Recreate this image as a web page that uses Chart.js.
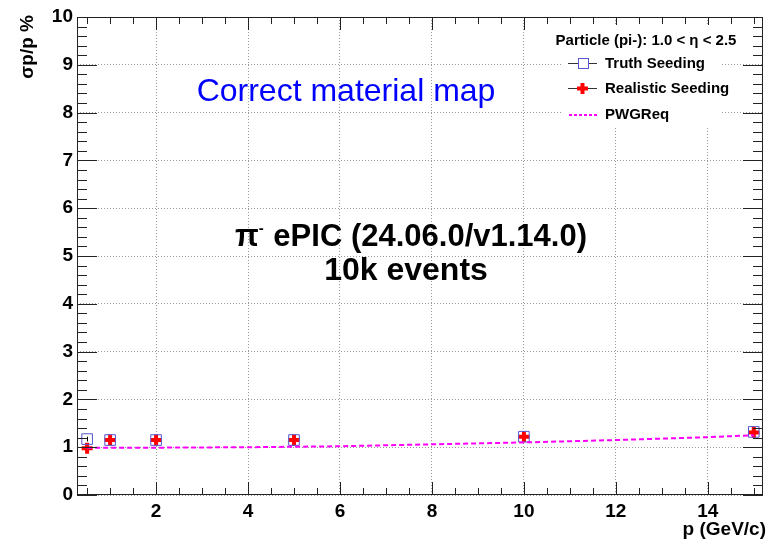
<!DOCTYPE html>
<html>
<head>
<meta charset="utf-8">
<script src="https://cdn.jsdelivr.net/npm/chart.js@4"></script>
<style>
  html, body { margin: 0; padding: 0; background: #fff; }
  #wrap { width: 768px; height: 542px; }
</style>
</head>
<body>
<div id="wrap"><canvas id="myChart" width="768" height="542"></canvas></div>
<script>
'use strict'
// momentum points (GeV/c)
let pVals = [0.5, 1, 2, 5, 10, 15];
let truthRes = [1.17, 1.15, 1.15, 1.15, 1.22, 1.32];
let truthErr = [0.05, 0.02, 0.02, 0.02, 0.02, 0.02];
let realRes = [0.98, 1.15, 1.15, 1.15, 1.22, 1.31];
let realErr = [0.03, 0.02, 0.02, 0.02, 0.02, 0.02];
// PWG requirement curve
let pwgP = [0.5, 1, 2, 4, 6, 8, 10, 12, 14, 15];
let pwgRes = [0.99, 0.99, 0.99, 1.0, 1.02, 1.06, 1.10, 1.15, 1.21, 1.25];
let xTicks = [2, 4, 6, 8, 10, 12, 14];
let yTicks = [0, 1, 2, 3, 4, 5, 6, 7, 8, 9, 10];

let font = '"Liberation Sans", Arial, sans-serif';

function pts(xs, ys) {
    let out = [];
    for (let i = 0; i < xs.length; i++) {
        out.push({x: xs[i], y: ys[i]});
    }
    return out;
}

// ROOT style frame with inner ticks on all four sides
let frameTicks = {
    id: 'frameTicks',
    afterDatasetsDraw(chart) {
        let ctx = chart.ctx;
        let a = chart.chartArea;
        let xs = chart.scales.x;
        let ys = chart.scales.y;
        ctx.save();
        ctx.strokeStyle = '#222';
        ctx.lineWidth = 1;
        ctx.beginPath();
        // x ticks every 0.5, major every 2
        for (let v = 0.5; v <= 15.2; v += 0.5) {
            let px = Math.round(xs.getPixelForValue(v)) + 0.5;
            let len = (v % 2 === 0) ? 13 : 7;
            ctx.moveTo(px, a.bottom); ctx.lineTo(px, a.bottom - len);
            ctx.moveTo(px, a.top); ctx.lineTo(px, a.top + len);
        }
        // y ticks every 0.2, major every 1
        for (let k = 0; k <= 50; k++) {
            let v = k / 5;
            let py = Math.round(ys.getPixelForValue(v)) + 0.5;
            let len = (k % 5 === 0) ? 20 : 10;
            ctx.moveTo(a.left, py); ctx.lineTo(a.left + len, py);
            ctx.moveTo(a.right, py); ctx.lineTo(a.right - len, py);
        }
        ctx.stroke();
        ctx.strokeRect(Math.round(a.left) + 0.5, Math.round(a.top) + 0.5,
            Math.round(a.right - a.left) - 1, Math.round(a.bottom - a.top) - 1);
        ctx.restore();
    }
};

// small vertical error bars, drawn under the markers
let errBars = {
    id: 'errBars',
    beforeDatasetsDraw(chart) {
        let ctx = chart.ctx;
        let xs = chart.scales.x;
        let ys = chart.scales.y;
        let sets = [[truthRes, truthErr], [realRes, realErr]];
        ctx.save();
        ctx.strokeStyle = '#000';
        ctx.lineWidth = 1;
        ctx.beginPath();
        sets.forEach(function (s) {
            for (let i = 0; i < pVals.length; i++) {
                let px = Math.round(xs.getPixelForValue(pVals[i])) + 0.5;
                ctx.moveTo(px, ys.getPixelForValue(s[0][i] - s[1][i]));
                ctx.lineTo(px, ys.getPixelForValue(s[0][i] + s[1][i]));
            }
        });
        ctx.stroke();
        ctx.restore();
    }
};

let labelsAndLegend = {
    id: 'labelsAndLegend',
    afterDraw(chart) {
        let ctx = chart.ctx;
        ctx.save();
        // legend box
        ctx.fillStyle = '#fff';
        ctx.fillRect(563, 25, 158, 102);
        ctx.fillStyle = '#000';
        ctx.textBaseline = 'middle';
        ctx.textAlign = 'center';
        ctx.font = 'bold 15px ' + font;
        ctx.fillText('Particle (pi-): 1.0 < \u03b7 < 2.5', 646, 41);

        ctx.textAlign = 'left';
        ctx.font = 'bold 15px ' + font;
        ctx.fillText('Truth Seeding', 605, 64);
        ctx.fillText('Realistic Seeding', 605, 89);
        ctx.fillText('PWGReq', 605, 115);

        // legend markers
        ctx.strokeStyle = '#333';
        ctx.lineWidth = 1;
        ctx.beginPath();
        ctx.moveTo(568, 63.5); ctx.lineTo(597, 63.5);
        ctx.moveTo(568, 88.5); ctx.lineTo(597, 88.5);
        ctx.stroke();
        ctx.fillStyle = '#fff';
        ctx.fillRect(578, 59, 10, 10);
        ctx.strokeStyle = '#5555cc';
        ctx.strokeRect(578.5, 58.5, 10, 10);
        ctx.strokeStyle = '#ff0000';
        ctx.lineWidth = 4;
        ctx.beginPath();
        ctx.moveTo(577, 88.5); ctx.lineTo(588, 88.5);
        ctx.moveTo(582.5, 83); ctx.lineTo(582.5, 94);
        ctx.stroke();
        ctx.strokeStyle = '#ff00ff';
        ctx.lineWidth = 2;
        ctx.setLineDash([3, 2]);
        ctx.beginPath();
        ctx.moveTo(569, 115); ctx.lineTo(597, 115);
        ctx.stroke();
        ctx.setLineDash([]);

        // annotations
        ctx.textBaseline = 'alphabetic';
        ctx.textAlign = 'center';
        ctx.fillStyle = '#0000ff';
        ctx.font = '32px ' + font;
        ctx.fillText('Correct material map', 346, 101);

        ctx.fillStyle = '#000';
        ctx.font = 'bold 31px ' + font;
        let t1 = ' ePIC (24.06.0/v1.14.0)';
        let wPi = ctx.measureText('\u03c0').width;
        let wT = ctx.measureText(t1).width;
        let startX = 411 - (wPi + 6 + wT) / 2;
        ctx.textAlign = 'left';
        ctx.fillText('\u03c0', startX, 246);
        ctx.font = 'bold 15px ' + font;
        ctx.fillText('-', startX + wPi, 233);
        ctx.font = 'bold 31px ' + font;
        ctx.fillText(t1, startX + wPi + 6, 246);
        ctx.textAlign = 'center';
        ctx.font = 'bold 32px ' + font;
        ctx.fillText('10k events', 406, 280);

        // axis titles
        ctx.font = 'bold 19px ' + font;
        ctx.textAlign = 'right';
        ctx.fillText('p (GeV/c)', 766, 535);
        ctx.textBaseline = 'middle';
        ctx.translate(28, 15);
        ctx.rotate(-Math.PI / 2);
        ctx.fillText('\u03c3p/p %', 0, 0);
        ctx.restore();
    }
};

let ctx = document.getElementById('myChart').getContext('2d');
let myChart = new Chart(ctx, {
    type: 'scatter',
    data: {
        datasets: [
            {
                label: 'PWGReq',
                data: pts(pwgP, pwgRes),
                showLine: true,
                borderColor: '#ff00ff',
                borderWidth: 2,
                borderDash: [5, 3],
                pointRadius: 0,
                fill: false
            },
            {
                label: 'Truth Seeding',
                data: pts(pVals, truthRes),
                pointStyle: 'rect',
                pointRadius: 7.5,
                borderColor: '#5555cc',
                backgroundColor: 'rgba(0,0,0,0)',
                borderWidth: 1
            },
            {
                label: 'Realistic Seeding',
                data: pts(pVals, realRes),
                pointStyle: 'cross',
                pointRadius: 5.5,
                borderColor: '#ff0000',
                borderWidth: 4
            }
        ]
    },
    options: {
        responsive: false,
        animation: false,
        layout: { autoPadding: false, padding: { top: 17, right: 5, left: 0, bottom: 0 } },
        plugins: {
            legend: { display: false },
            tooltip: { enabled: false }
        },
        scales: {
            x: {
                type: 'linear',
                min: 0.28,
                max: 15.2,
                afterFit: function (s) {
                    s.height = 47;
                    s.paddingLeft = 0;
                    s.paddingRight = 0;
                },
                afterBuildTicks: function (s) {
                    s.ticks = xTicks.map(function (v) { return {value: v}; });
                },
                grid: {
                    color: '#999',
                    tickLength: 0,
                    drawTicks: false
                },
                border: { display: false, dash: [1, 2] },
                ticks: {
                    padding: 5,
                    color: '#000',
                    font: { family: font, size: 19, weight: 'bold' }
                }
            },
            y: {
                min: 0,
                max: 10,
                afterFit: function (s) {
                    s.width = 77;
                    s.paddingTop = 0;
                    s.paddingBottom = 0;
                },
                afterBuildTicks: function (s) {
                    s.ticks = yTicks.map(function (v) { return {value: v}; });
                },
                grid: {
                    color: '#999',
                    drawTicks: false
                },
                border: { display: false, dash: [1, 2] },
                ticks: {
                    padding: 4,
                    color: '#000',
                    font: { family: font, size: 19, weight: 'bold' }
                }
            }
        }
    },
    plugins: [errBars, frameTicks, labelsAndLegend]
});
</script>
</body>
</html>
